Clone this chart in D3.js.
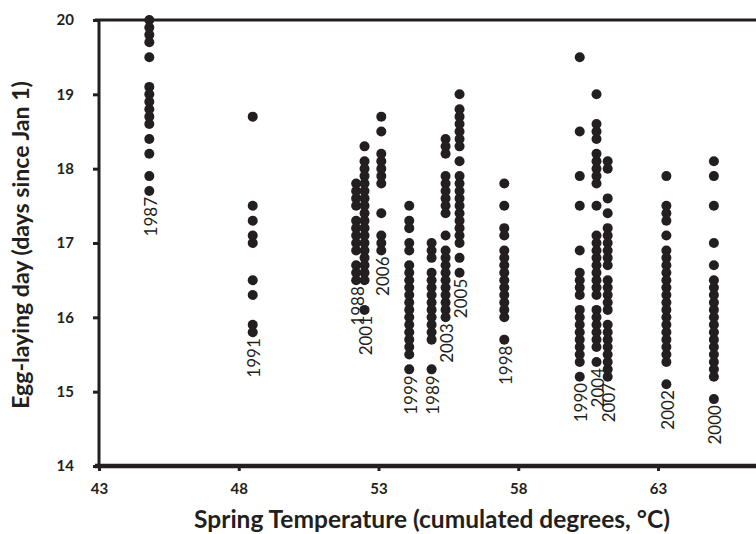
<!DOCTYPE html>
<html>
<head>
<meta charset="utf-8">
<script src="https://cdn.jsdelivr.net/npm/d3@7/dist/d3.min.js"></script>
<style>
  html, body { margin: 0; padding: 0; background: #fff; }
  svg { display: block; }
</style>
</head>
<body>
<svg id="chart" width="756" height="534"></svg>
<script>
// ---- Data ----
const years = ["1987","1991","1988","2001","2006","1999","1989","2003","2005","1998","1990","2004","2007","2002","2000"];
const springTemps = [44.8, 48.5, 52.2, 52.5, 53.1, 54.1, 54.9, 55.4, 55.9, 57.5, 60.2, 60.8, 61.2, 63.3, 65.0];
const layingDays = [
  [20.0,19.9,19.8,19.7,19.5,19.1,19.0,18.9,18.8,18.7,18.6,18.4,18.2,17.9,17.7],
  [18.7,17.5,17.3,17.1,17.0,16.5,16.3,15.9,15.8],
  [17.8,17.7,17.6,17.5,17.3,17.2,17.1,17.0,16.9,16.7,16.6,16.5],
  [18.3,18.1,18.0,17.9,17.8,17.7,17.6,17.5,17.4,17.3,17.2,17.1,17.0,16.9,16.8,16.7,16.6,16.5,16.1],
  [18.7,18.5,18.2,18.1,18.0,17.9,17.8,17.4,17.1,17.0,16.9],
  [17.5,17.3,17.2,17.0,16.9,16.7,16.6,16.5,16.4,16.3,16.2,16.1,16.0,15.9,15.8,15.7,15.6,15.5,15.3],
  [17.0,16.9,16.8,16.6,16.5,16.4,16.3,16.2,16.1,16.0,15.9,15.8,15.7,15.3],
  [18.4,18.3,18.2,17.9,17.8,17.7,17.6,17.5,17.4,17.1,16.9,16.8,16.7,16.6,16.5,16.4,16.3,16.2,16.1,16.0],
  [19.0,18.8,18.7,18.6,18.5,18.4,18.3,18.1,17.9,17.8,17.7,17.6,17.5,17.4,17.3,17.2,17.1,17.0,16.8,16.6],
  [17.8,17.5,17.2,17.1,16.9,16.8,16.7,16.6,16.5,16.4,16.3,16.2,16.1,16.0,15.7],
  [19.5,18.5,17.9,17.5,16.9,16.6,16.5,16.4,16.3,16.1,16.0,15.9,15.8,15.7,15.6,15.5,15.4,15.2],
  [19.0,18.6,18.5,18.4,18.2,18.1,18.0,17.9,17.8,17.5,17.1,17.0,16.9,16.8,16.7,16.6,16.5,16.4,16.3,16.1,16.0,15.9,15.8,15.7,15.6,15.4],
  [18.1,18.0,17.6,17.4,17.2,17.1,17.0,16.9,16.8,16.7,16.5,16.4,16.3,16.2,16.1,15.9,15.8,15.7,15.6,15.5,15.4,15.3,15.2],
  [17.9,17.5,17.4,17.3,17.1,16.9,16.8,16.7,16.6,16.5,16.4,16.3,16.2,16.1,16.0,15.9,15.8,15.7,15.6,15.5,15.4,15.1],
  [18.1,17.9,17.5,17.0,16.7,16.5,16.4,16.3,16.2,16.1,16.0,15.9,15.8,15.7,15.6,15.5,15.4,15.3,15.2,14.9]
];
const xTicks = [43, 48, 53, 58, 63];
const yTicks = [14, 15, 16, 17, 18, 19, 20];
const xTitle = "Spring Temperature (cumulated degrees, °C)";
const yTitle = "Egg-laying day (days since Jan 1)";

// ---- Layout ----
const ink = "#231f20";
const font = "Lato, 'Open Sans', sans-serif";
const svg = d3.select("#chart");

const x = d3.scaleLinear().domain([43, 68]).range([99, 99 + 25 * 27.95]);
const y = d3.scaleLinear().domain([14, 20]).range([466, 20]);

// points
const points = [];
years.forEach((yr, i) => layingDays[i].forEach(v => points.push({ yr, t: springTemps[i], v })));

svg.append("g").selectAll("circle").data(points).join("circle")
  .attr("cx", d => x(d.t))
  .attr("cy", d => y(d.v))
  .attr("r", 5)
  .attr("fill", ink);

// year labels (rotated, below each column's lowest point)
svg.append("g").selectAll("text").data(years).join("text")
  .attr("transform", (d, i) => `translate(${x(springTemps[i]) + 1},${y(d3.min(layingDays[i])) + 6}) rotate(-90)`)
  .attr("text-anchor", "end")
  .attr("dominant-baseline", "central")
  .attr("font-family", font)
  .attr("font-size", 17)
  .attr("fill", ink)
  .text(d => d);

// axes
const xAxis = d3.axisBottom(x).tickValues(xTicks).tickSize(5).tickPadding(12).tickFormat(d3.format("d"));
const gx = svg.append("g").attr("transform", `translate(0,${y(14)})`).call(xAxis);
gx.select(".domain").remove();
gx.selectAll(".tick line").attr("stroke", ink).attr("stroke-width", 3);
gx.selectAll(".tick text").attr("font-family", font).attr("font-weight", "bold")
  .attr("font-size", 15).attr("fill", ink);

const yAxis = d3.axisLeft(y).tickValues(yTicks).tickSize(6).tickPadding(19).tickFormat(d3.format("d"));
const gy = svg.append("g").attr("transform", `translate(${x(43)},0)`).call(yAxis);
gy.select(".domain").remove();
gy.selectAll(".tick line").attr("stroke", ink).attr("stroke-width", 3);
gy.selectAll(".tick text").attr("font-family", font).attr("font-weight", "bold")
  .attr("font-size", 15).attr("fill", ink);

// frame
svg.append("line").attr("x1", x(43) - 4).attr("x2", 800).attr("y1", y(20)).attr("y2", y(20))
  .attr("stroke", ink).attr("stroke-width", 3);
svg.append("line").attr("x1", x(43)).attr("x2", x(43)).attr("y1", y(20)).attr("y2", y(14))
  .attr("stroke", ink).attr("stroke-width", 3);
svg.append("line").attr("x1", x(43) - 4).attr("x2", 800).attr("y1", y(14)).attr("y2", y(14))
  .attr("stroke", ink).attr("stroke-width", 4.5);

// axis titles, fitted to the reference widths
function fit(sel, target) {
  let fs = +sel.attr("font-size");
  const len = sel.node().getComputedTextLength();
  if (len > 0) sel.attr("font-size", fs * target / len);
}
const xt = svg.append("text").attr("x", 432).attr("y", 528)
  .attr("text-anchor", "middle").attr("font-family", font).attr("font-weight", "bold")
  .attr("font-size", 20).attr("fill", ink).text(xTitle);
fit(xt, 476);
const yt = svg.append("text").attr("transform", "translate(29,245) rotate(-90)")
  .attr("text-anchor", "middle").attr("font-family", font).attr("font-weight", "bold")
  .attr("font-size", 20).attr("fill", ink).text(yTitle);
fit(yt, 328);
</script>
</body>
</html>
